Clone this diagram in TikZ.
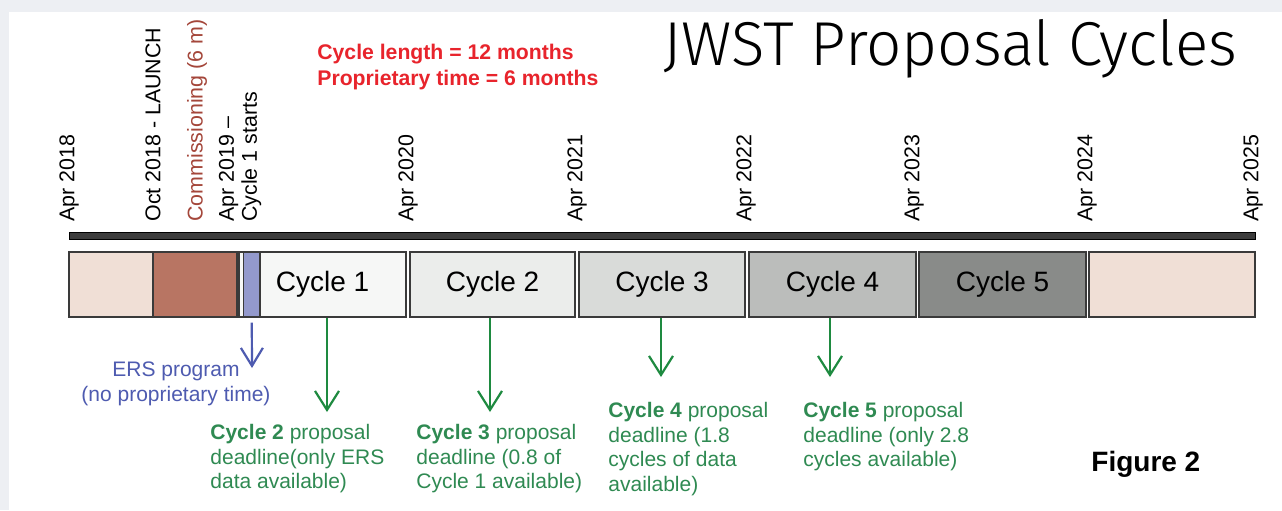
\documentclass[tikz,border=0pt]{standalone}
\usepackage{fontspec}
\setmainfont{Liberation Sans}
\newfontfamily\titlefont{Fira Sans}[UprightFont={* Light}]
\usepackage{tikz}
\usetikzlibrary{arrows.meta}

\definecolor{outerbg}{HTML}{EDEFF3}
\definecolor{boxline}{HTML}{3A3A3A}
\definecolor{bardark}{HTML}{3C3C3C}
\definecolor{rulered}{HTML}{E8242C}
\definecolor{commred}{HTML}{A4463A}
\definecolor{prefill}{HTML}{F0DFD6}
\definecolor{commfill}{HTML}{B87563}
\definecolor{ersfill}{HTML}{9399CC}
\definecolor{ersblue}{HTML}{4E5BB0}
\definecolor{cfillA}{HTML}{F6F7F6}
\definecolor{cfillB}{HTML}{EBEDEB}
\definecolor{cfillC}{HTML}{D9DBD9}
\definecolor{cfillD}{HTML}{BBBDBB}
\definecolor{cfillE}{HTML}{898B89}
\definecolor{arrowgreen}{HTML}{1E8A40}
\definecolor{notegreen}{HTML}{2F8A52}

\tikzset{box/.style={draw=boxline, line width=0.7pt, minimum height=32.5pt, inner sep=0pt, font=\fontsize{14}{16}\selectfont}}
\tikzset{yr/.style={rotate=90, anchor=west, inner sep=0pt, font=\fontsize{10.7}{11.5}\selectfont}}
\tikzset{note/.style={align=left, anchor=north west, inner sep=0pt, text=notegreen, font=\fontsize{10.5}{12.3}\selectfont}}
\tikzset{deadline/.style={draw=arrowgreen, line width=1.1pt, -{Straight Barb[length=9.5pt,width=12pt]}}}
\tikzset{ersarrow/.style={draw=ersblue, line width=1.1pt, shorten <=2.5pt, -{Straight Barb[length=9pt,width=11pt]}}}

\begin{document}
\begin{tikzpicture}[x=0.5pt,y=-0.5pt]
\fill[outerbg] (0,0) rectangle (1282,510);
\fill[white] (9,12) rectangle (1282,510);
\useasboundingbox (0,0) rectangle (1282,510);

% heading
\node[anchor=base west, inner sep=0pt, font=\titlefont\fontsize{31}{33}\selectfont] (title) at (663,65) {JWST Proposal Cycles};
\node[anchor=north west, align=left, inner sep=0pt, text=rulered, font=\bfseries\fontsize{10.6}{13}\selectfont] (rules) at (317,44) {Cycle length = 12 months\\Proprietary time = 6 months};

% dates
\node[yr] (y18) at (69,222) {Apr 2018};
\node[yr] (launch) at (153,222) {Oct 2018 - LAUNCH};
\node[yr, text=commred] (commlab) at (197,222) {Commissioning (6 m)};
\node[yr, align=left] (y19) at (240,222) {Apr 2019 --\\Cycle 1 starts};
\node[yr] (y20) at (408,222) {Apr 2020};
\node[yr] (y21) at (577,222) {Apr 2021};
\node[yr] (y22) at (746,222) {Apr 2022};
\node[yr] (y23) at (914,222) {Apr 2023};
\node[yr] (y24) at (1087,222) {Apr 2024};
\node[yr] (y25) at (1253,222) {Apr 2025};

\node[draw=black, fill=bardark, line width=0.5pt, minimum width=593pt, minimum height=3.3pt, inner sep=0pt] (bar) at (662,236) {};

% blocks
\node[box, fill=prefill, minimum width=42pt] (pre) at (111,284.5) {};
\node[box, fill=commfill, minimum width=42pt] (commbox) at (195,284.5) {};
\node[box, fill=cfillA, minimum width=83.5pt] (c1) at (322.5,284.5) {Cycle 1};
\node[box, fill=ersfill, minimum width=8.25pt] (ers) at (251.75,284.5) {};
\node[box, fill=cfillB, minimum width=82.5pt] (c2) at (492.5,284.5) {Cycle 2};
\node[box, fill=cfillC, minimum width=83pt] (c3) at (662,284.5) {Cycle 3};
\node[box, fill=cfillD, minimum width=83.5pt] (c4) at (832.5,284.5) {Cycle 4};
\node[box, fill=cfillE, minimum width=83.5pt] (c5) at (1002.5,284.5) {Cycle 5};
\node[box, fill=prefill, minimum width=83pt] (post) at (1172,284.5) {};

% ERS
\coordinate (ersend) at (252,368);
\draw[ersarrow] (ers.south) -- (ersend);
\node[align=center, anchor=north, inner sep=0pt, text=ersblue, font=\fontsize{10.5}{12.5}\selectfont] (erstext) at (176,361) {ERS program\\(no proprietary time)};

% deadlines
\node[note] (note2) at (210,424) {\textbf{Cycle 2} proposal\\deadline(only ERS\\data available)};
\node[note] (note3) at (416,424) {\textbf{Cycle 3} proposal\\deadline (0.8 of\\Cycle 1 available)};
\node[note] (note4) at (608,402) {\textbf{Cycle 4} proposal\\deadline (1.8\\cycles of data\\available)};
\node[note] (note5) at (803,402) {\textbf{Cycle 5} proposal\\deadline (only 2.8\\cycles available)};
\coordinate (tip2) at (327,412);
\coordinate (tip3) at (490,412);
\coordinate (tip4) at (661,377);
\coordinate (tip5) at (830,377);
\draw[deadline] (c1.south -| tip2) -- (tip2);
\draw[deadline] (c2.south -| tip3) -- (tip3);
\draw[deadline] (c3.south -| tip4) -- (tip4);
\draw[deadline] (c4.south -| tip5) -- (tip5);

\node[anchor=base west, inner sep=0pt, font=\bfseries\fontsize{14}{16}\selectfont] (fig) at (1091,471) {Figure 2};
\end{tikzpicture}
\end{document}
